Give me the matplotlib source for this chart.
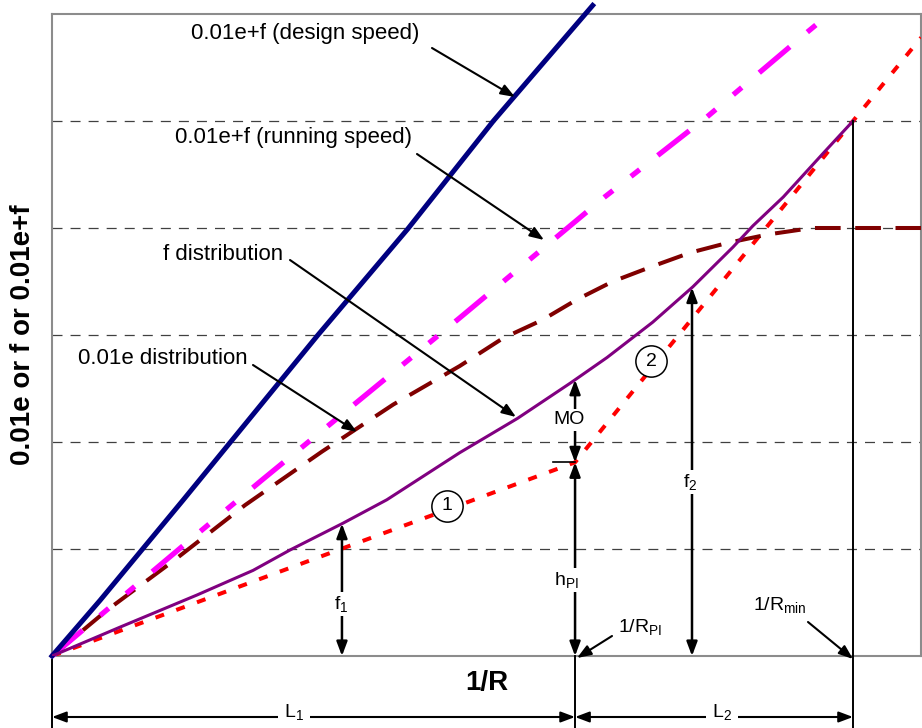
import numpy as np
import matplotlib
matplotlib.use("Agg")
import matplotlib.pyplot as plt

plt.rcParams['font.family'] = ['Liberation Sans', 'DejaVu Sans']
plt.rcParams['mathtext.fontset'] = 'custom'
plt.rcParams['mathtext.rm'] = 'Liberation Sans'
plt.rcParams['mathtext.it'] = 'Liberation Sans:italic'
plt.rcParams['mathtext.bf'] = 'Liberation Sans:bold'
plt.rcParams['lines.scale_dashes'] = False

# ---------------- data (x = 1/R normalised so that 1/Rmin = 1, y in grid units) -------------
design_x = [0, 0.060, 0.164, 0.332, 0.444, 0.551, 0.675]
design_y = [0, 0.52, 1.46, 3.00, 3.99, 5.00, 6.08]

running_x = [0, 0.162, 0.263, 0.509, 0.690, 0.818, 0.938, 0.975]
running_y = [0, 1.02, 1.65, 3.16, 4.29, 5.04, 5.80, 6.03]

e_x = [0, 0.069, 0.150, 0.241, 0.337, 0.426, 0.509, 0.563, 0.612, 0.655, 0.700,
       0.749, 0.797, 0.843, 0.894, 0.949, 0.971, 1.085]
e_y = [0, 0.43, 0.88, 1.41, 1.91, 2.35, 2.71, 2.97, 3.14, 3.33, 3.50,
       3.64, 3.77, 3.86, 3.94, 4.00, 4.00, 4.00]

f_x = [0, 0.085, 0.181, 0.251, 0.297, 0.363, 0.418, 0.509, 0.581, 0.647, 0.693,
       0.750, 0.800, 0.850, 0.875, 0.913, 0.963, 1.000]
f_y = [0, 0.27, 0.57, 0.80, 0.99, 1.24, 1.46, 1.90, 2.22, 2.55, 2.79,
       3.12, 3.45, 3.82, 4.02, 4.29, 4.70, 5.00]

m2_x = [0, 0.653, 1.000, 1.085]
m2_y = [0, 1.81, 5.00, 5.78]

x_PI = 0.653
x_Rmin = 1.0
x_f1 = 0.362
x_f2 = 0.799
grid_levels = [1, 2, 3, 4, 5]

XMAX = 869 / 801

# ---------------- figure ----------------
fig = plt.figure(figsize=(9.22, 7.28), dpi=100)
ax = fig.add_axes([52 / 922, 72 / 728, 869 / 922, 642 / 728])
ax.set_xlim(0, XMAX)
ax.set_ylim(0, 6)
ax.set_xticks([])
ax.set_yticks([])
for s in ax.spines.values():
    s.set_color('#8c8c8c')
    s.set_linewidth(1.5)


def P(xp, yp):
    """pixel position of the reference -> data coords"""
    return ((xp - 52) / 801, (656 - yp) / 107)


for g in grid_levels:
    ax.axhline(g, color='#404040', lw=0.9, ls=(0, (7.2, 5.8)), zorder=1)

ax.plot(m2_x, m2_y, color='#ff0000', lw=2.9, ls=(0, (6.5, 9.4)), zorder=3)
ax.plot(e_x, e_y, color='#800000', lw=2.9, ls=(0, (18.5, 10.5)), zorder=3.2)
ax.plot(running_x, running_y, color='#ff00ff', lw=3.8,
        ls=(0, (28.8, 16.5, 8, 16.5, 8, 16.5)), zorder=3.4, clip_on=False)
ax.plot(design_x, design_y, color='#000080', lw=3.6, zorder=3.6, clip_on=False)
ax.plot(f_x, f_y, color='#800080', lw=2.2, zorder=4)

AP = dict(mutation_scale=10, lw=1.5, color='black', shrinkA=0, shrinkB=0, clip_on=False)


def arrow(tip, tail, both=False, lw=1.5):
    style = ('<|-|>' if both else '-|>') + ',head_length=0.85,head_width=0.32'
    props = dict(AP)
    props['lw'] = lw
    ax.annotate('', xy=tip, xytext=tail, arrowprops=dict(arrowstyle=style, **props),
                annotation_clip=False, zorder=5)


# curve labels with leader arrows
FS = 16
ax.text(*P(305, 33), '0.01e+f (design speed)', fontsize=FS, ha='center', va='center')
arrow(P(515, 97), P(432, 48))
ax.text(*P(293, 138), '0.01e+f (running speed)', fontsize=FS, ha='center', va='center')
arrow(P(544, 240), P(417, 154))
ax.text(*P(223, 255), 'f distribution', fontsize=FS, ha='center', va='center')
arrow(P(516, 417), P(290, 260))
ax.text(*P(163, 358), '0.01e distribution', fontsize=FS, ha='center', va='center')
arrow(P(357, 432), P(253, 365))

# circled numbers
for (cx, cy), lab in [(P(447, 506), '1'), (P(651, 361), '2')]:
    ax.plot([cx], [cy], marker='o', ms=22.5, mfc='white', mec='black', mew=1.1,
            zorder=5, ls='none')
    ax.text(cx, cy, lab, fontsize=14, ha='center', va='center', zorder=6)

SF = 14
WB = dict(fc='white', ec='none', pad=1.5)

# f1
f1_top = np.interp(x_f1, f_x, f_y)
arrow((x_f1, f1_top), (x_f1, 0), both=True, lw=1.8)
ax.text(*P(341, 604), 'f$_1$', fontsize=SF, ha='center', va='center', bbox=WB, zorder=6)

# f2
f2_top = np.interp(x_f2, f_x, f_y)
arrow((x_f2, f2_top), (x_f2, 0), both=True, lw=1.8)
ax.text(*P(690, 482), 'f$_2$', fontsize=SF, ha='center', va='center', bbox=WB, zorder=6)

# MO and h_PI
h_PI = np.interp(x_PI, m2_x, m2_y)
f_PI = np.interp(x_PI, f_x, f_y)
arrow((x_PI, f_PI), (x_PI, h_PI), both=True, lw=1.8)
arrow((x_PI, h_PI), (x_PI, 0), both=True, lw=1.8)
ax.plot([P(553, 0)[0], x_PI], [h_PI, h_PI], color='black', lw=1.2, zorder=5)
ax.text(*P(569, 420), 'MO', fontsize=SF, ha='center', va='center', bbox=WB, zorder=6)
ax.text(*P(566, 580), 'h$_{\\mathrm{PI}}$', fontsize=SF, ha='center', va='center',
        bbox=WB, zorder=6)

# Rmin vertical line and extension lines below the axis
y_low = P(0, 728)[1]
ax.plot([x_Rmin, x_Rmin], [np.interp(x_Rmin, f_x, f_y), y_low], color='black', lw=1.4,
        clip_on=False, zorder=5)
ax.plot([x_PI, x_PI], [0, y_low], color='black', lw=1.4, clip_on=False, zorder=5)
ax.plot([0, 0], [P(0, 660)[1], y_low], color='black', lw=1.4, clip_on=False, zorder=5)

# dimension arrows L1 / L2
y_dim = P(0, 717)[1]
arrow((x_PI, y_dim), (0, y_dim), both=True, lw=1.5)
arrow((x_Rmin, y_dim), (x_PI, y_dim), both=True, lw=1.5)
ax.text(*P(294, 712), 'L$_1$', fontsize=SF, ha='center', va='center',
        bbox=dict(fc='white', ec='none', pad=4), zorder=6)
ax.text(*P(722, 712), 'L$_2$', fontsize=SF, ha='center', va='center',
        bbox=dict(fc='white', ec='none', pad=4), zorder=6)

# 1/R_PI and 1/R_min
ax.text(*P(618, 627), '1/R$_{\\mathrm{PI}}$', fontsize=SF, ha='left', va='center', zorder=6)
arrow(P(577, 658), P(612, 636))
ax.text(*P(780, 605), '1/R$_{\\mathrm{min}}$', fontsize=SF, ha='center', va='center', zorder=6)
arrow(P(853, 659), P(808, 622))

# axis titles
ax.text(*P(487, 683), '1/R', fontsize=20, fontweight='bold', ha='center', va='center')
fig.text(23 / 922, 1 - 335 / 728, '0.01e or f or 0.01e+f', fontsize=20, fontweight='bold',
         rotation=90, ha='center', va='center')

fig.savefig('out.png', dpi=100)
